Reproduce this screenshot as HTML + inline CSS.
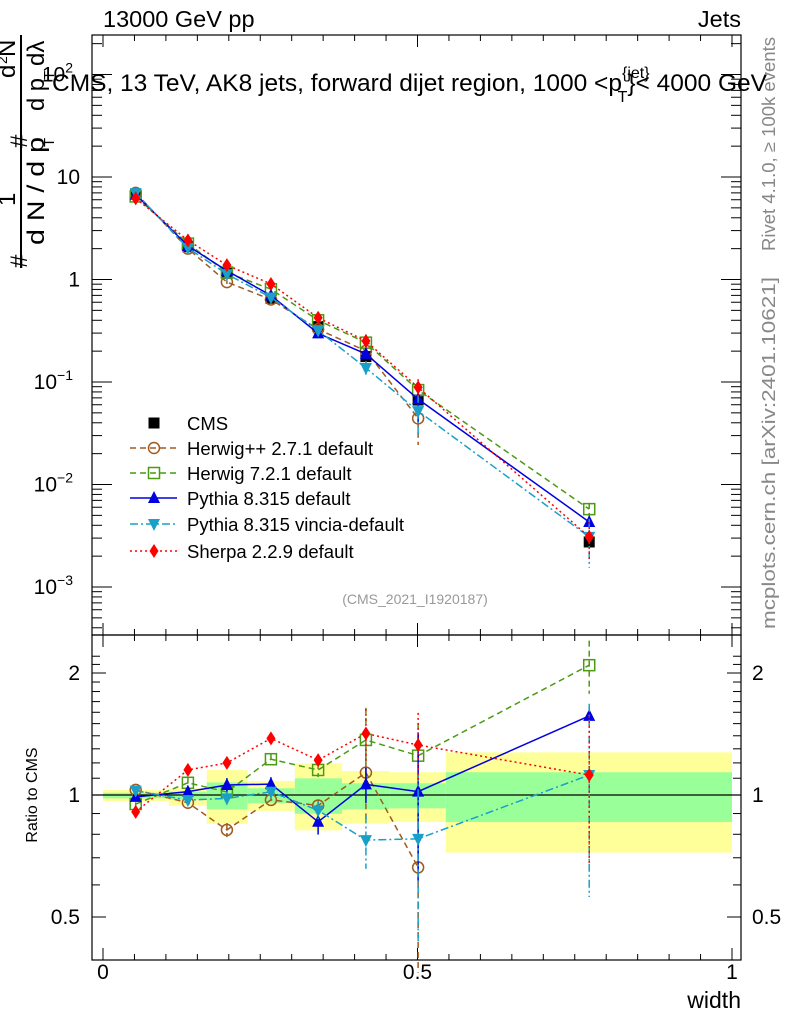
<!DOCTYPE html>
<html><head><meta charset="utf-8">
<style>
body{margin:0;background:#fff;}
svg{display:block;font-family:"Liberation Sans",sans-serif;}
</style></head><body>
<svg id="c" width="786" height="1024" viewBox="0 0 786 1024"></svg>
<script>
const widths=[0.052,0.135,0.197,0.267,0.342,0.418,0.501,0.773];
const binEdges=[0,0.105,0.165,0.23,0.305,0.38,0.455,0.545,1.0];
const cmsVals=[6.8,2.09,1.15,0.656,0.347,0.177,0.0667,0.00275];
const bandYellowHi=[1.029,1.039,1.152,1.083,1.197,1.146,1.138,1.274];
const bandYellowLo=[0.966,0.941,0.849,0.914,0.818,0.850,0.858,0.721];
const bandGreenHi=[1.013,1.019,1.074,1.039,1.099,1.069,1.069,1.138];
const bandGreenLo=[0.981,0.974,0.922,0.954,0.899,0.922,0.927,0.858];
const herwigppVals=[7.0,2.0,0.943,0.638,0.327,0.201,0.0442];
const herwig7Vals=[6.46,2.24,1.17,0.804,0.40,0.242,0.0834,0.00575];
const pythiaVals=[6.73,2.13,1.217,0.698,0.298,0.188,0.068,0.00431];
const vinciaVals=[6.97,2.03,1.128,0.668,0.318,0.137,0.052,0.00308];
const sherpaVals=[6.18,2.41,1.38,0.905,0.423,0.251,0.0886,0.00308];
const herwigppErr=[0.01,0.02,0.04,0.03,0.03,0.25,0.45];
const herwig7Err=[0.01,0.03,0.02,0.03,0.04,0.2,0.2,0.15];
const pythiaErr=[0.01,0.03,0.04,0.04,0.07,0.1,0.4,0.05];
const vinciaErr=[0.01,0.03,0.04,0.03,0.05,0.15,0.45,0.5];
const sherpaErr=[0.01,0.02,0.03,0.03,0.03,0.15,0.2,0.4];
const xTicks=[0,0.5,1];
const xTickLabels=["0","0.5","1"];
const ratioTicks=[0.5,1,2];
const ratioTickLabels=["0.5","1","2"];

const NS="http://www.w3.org/2000/svg";
const svg=document.getElementById('c');
function el(tag,attrs,parent){const e=document.createElementNS(NS,tag);for(const k in attrs)e.setAttribute(k,attrs[k]);(parent||svg).appendChild(e);return e;}
const X0=92,X1=741,T0=35,T1=635,R0=635,R1=960;
const xs=v=>103+629*v;
const ys=v=>177-102.5*(Math.log10(v)-1);
const rs=v=>795-122*Math.log2(v);

for(let i=0;i<8;i++){
  const y=el('rect',{x:xs(binEdges[i]),y:rs(bandYellowHi[i]),width:xs(binEdges[i+1])-xs(binEdges[i]),height:rs(bandYellowLo[i])-rs(bandYellowHi[i]),fill:'#ffff99'});
  
  
  const g=el('rect',{x:xs(binEdges[i]),y:rs(bandGreenHi[i]),width:xs(binEdges[i+1])-xs(binEdges[i]),height:rs(bandGreenLo[i])-rs(bandGreenHi[i]),fill:'#99ff99'});
  
  
}
el('line',{x1:X0,x2:X1,y1:rs(1),y2:rs(1),stroke:'#000','stroke-width':1.2});

const f1=el('rect',{x:X0,y:T0,width:X1-X0,height:T1-T0,fill:'none',stroke:'#000','stroke-width':1.2});

const f2=el('rect',{x:X0,y:R0,width:X1-X0,height:R1-R0,fill:'none',stroke:'#000','stroke-width':1.2});


for(let v=0;v<=1.0001;v+=0.05){
  const big=Math.abs(v*10-Math.round(v*10))<1e-6&&Math.round(v*10)%5==0;
  const L=big?12:6;
  el('line',{x1:xs(v),x2:xs(v),y1:R1,y2:R1-L,stroke:'#000'});
  el('line',{x1:xs(v),x2:xs(v),y1:R0,y2:R0-L,stroke:'#000'});
  el('line',{x1:xs(v),x2:xs(v),y1:T0,y2:T0+L,stroke:'#000'});
  el('line',{x1:xs(v),x2:xs(v),y1:R0,y2:R0+L,stroke:'#000'});
}
xTicks.forEach((v,i)=>{const t=el('text',{x:xs(v),y:979,'font-size':21,'text-anchor':'middle'});t.textContent=xTickLabels[i];
});
const xt=el('text',{x:741,y:1008,'font-size':23,'text-anchor':'end'});xt.textContent='width';


for(let d=-4;d<=2;d++){for(let m=1;m<10;m++){const v=m*Math.pow(10,d);const y=ys(v);if(y<T0||y>T1)continue;
  const L=m==1?20:10;el('line',{x1:X0,x2:X0+L,y1:y,y2:y,stroke:'#000'});el('line',{x1:X1,x2:X1-L,y1:y,y2:y,stroke:'#000'});}}
function ylab(x,y,base,exp){const t=el('text',{x:x,y:y,'font-size':21,'text-anchor':'end'});t.textContent=base;
 if(exp){const s=el('tspan',{dy:-9,'font-size':14},t);s.textContent=exp;}
 }
ylab(80,ys(10)+7,'10');ylab(80,ys(1)+7,'1');ylab(73,ys(0.1)+7,'10','−1');ylab(73,ys(0.01)+7,'10','−2');ylab(73,ys(0.001)+7,'10','−3');ylab(73,ys(100)+7,'10','2');

for(let v=0.5;v<=2.3;v+=0.1){const y=rs(v);if(y<R0)continue;const big=[0.5,1,2].some(q=>Math.abs(q-v)<1e-6);const L=big?14:8;
 el('line',{x1:X0,x2:X0+L,y1:y,y2:y,stroke:'#000'});el('line',{x1:X1,x2:X1-L,y1:y,y2:y,stroke:'#000'});}
ratioTicks.forEach((v,i)=>{[[80,'end'],[752,'start']].forEach(p=>{const t=el('text',{x:p[0],y:rs(v)+7,'font-size':21,'text-anchor':p[1]});t.textContent=ratioTickLabels[i];
 });});
const rl=el('text',{x:0,y:0,'font-size':16,'text-anchor':'middle',transform:'translate(37,795) rotate(-90)'});rl.textContent='Ratio to CMS';


function txt(x,y,s,size,name,attrs){const t=el('text',Object.assign({x:x,y:y,'font-size':size},attrs||{}));t.textContent=s;return t;}
txt(103,27,'13000 GeV pp',23.5,'beam-label');
txt(741,27,'Jets',23.5,'process-label',{'text-anchor':'end'});
const title=txt(52,91,'CMS, 13 TeV, AK8 jets, forward dijet region, 1000 <p',24.5,'plot-title');
const s1=el('tspan',{dy:-13,'font-size':16},title);s1.textContent='{jet}';
const s2=el('tspan',{dx:-32,dy:24,'font-size':16},title);s2.textContent='T';
const s3=el('tspan',{dy:-11,'font-size':24.5},title);s3.textContent='}< 4000 GeV';
txt(415,604,'(CMS_2021_I1920187)',14,'analysis-id',{'text-anchor':'middle',fill:'#999'});
txt(0,0,'Rivet 4.1.0, ≥ 100k events',18,'rivet-label',{fill:'#888','text-anchor':'end',textLength:214,lengthAdjust:'spacingAndGlyphs',transform:'translate(775,37) rotate(-90)'});
txt(0,0,'mcplots.cern.ch [arXiv:2401.10621]',18,'mcplots-label',{fill:'#888','text-anchor':'end',textLength:352,lengthAdjust:'spacingAndGlyphs',transform:'translate(775,277) rotate(-90)'});
const yg=el('g',{transform:'rotate(-90)'});
el('line',{x1:-268,x2:-35,y1:21,y2:21,stroke:'#000','stroke-width':2},yg);
function yt(u,v,s,fs,len){const a={x:u,y:v,'font-size':fs};if(len){a.textLength=len;a.lengthAdjust='spacingAndGlyphs';}const t=el('text',a,yg);t.textContent=s;return t;}
yt(-268,27,'#',24);
yt(-206,15,'1',24);
yt(-245,44,'d N / d p',24,108);
yt(-147,54,'T',15);
yt(-148,27,'#',24);
yt(-78,15,'d',24);yt(-64,7,'2',14);yt(-57,15,'N',24);
yt(-111,44,'d p',24,33);yt(-80,54,'T',15);yt(-66,44,'dλ',24);

function marker(g,kind,x,y,color){
 if(kind=='circle')el('circle',{cx:x,cy:y,r:5.5,fill:'none',stroke:color,'stroke-width':1.5},g);
 else if(kind=='osq')el('rect',{x:x-5.5,y:y-5.5,width:11,height:11,fill:'none',stroke:color,'stroke-width':1.5},g);
 else if(kind=='sq')el('rect',{x:x-5.5,y:y-5.5,width:11,height:11,fill:color},g);
 else if(kind=='up')el('polygon',{points:`${x},${y-7} ${x-6},${y+5} ${x+6},${y+5}`,fill:color},g);
 else if(kind=='down')el('polygon',{points:`${x},${y+7} ${x-6},${y-5} ${x+6},${y-5}`,fill:color},g);
 else if(kind=='dia')el('polygon',{points:`${x},${y-7} ${x-4.5},${y} ${x},${y+7} ${x+4.5},${y}`,fill:color},g);
}
const series=[
 {name:'herwigpp',label:'Herwig++ 2.7.1 default',vals:herwigppVals,err:herwigppErr,color:'#a05a1e',dash:'6,4',kind:'circle'},
 {name:'herwig7',label:'Herwig 7.2.1 default',vals:herwig7Vals,err:herwig7Err,color:'#4a9a12',dash:'6,4',kind:'osq'},
 {name:'pythia',label:'Pythia 8.315 default',vals:pythiaVals,err:pythiaErr,color:'#0000e0',dash:'',kind:'up'},
 {name:'vincia',label:'Pythia 8.315 vincia-default',vals:vinciaVals,err:vinciaErr,color:'#1aa0c8',dash:'8,3,2,3',kind:'down'},
 {name:'sherpa',label:'Sherpa 2.2.9 default',vals:sherpaVals,err:sherpaErr,color:'#ff0000',dash:'2,3',kind:'dia'}
];
const cg=el('g',{});
cmsVals.forEach((v,i)=>marker(cg,'sq',xs(widths[i]),ys(v),'#000'));
series.forEach(s=>{
 const g=el('g',{});
 const gr=el('g',{});
 const pts=s.vals.map((v,i)=>[xs(widths[i]),ys(v)]);
 const rpts=s.vals.map((v,i)=>[xs(widths[i]),rs(v/cmsVals[i])]);
 el('polyline',{points:pts.map(p=>p.join(',')).join(' '),fill:'none',stroke:s.color,'stroke-width':1.5,'stroke-dasharray':s.dash},g);
 el('polyline',{points:rpts.map(p=>p.join(',')).join(' '),fill:'none',stroke:s.color,'stroke-width':1.5,'stroke-dasharray':s.dash},gr);
 s.vals.forEach((v,i)=>{const e=s.err[i];const x=xs(widths[i]);
  const r=v/cmsVals[i];
  el('line',{x1:x,x2:x,y1:ys(v*(1+e)),y2:ys(Math.max(v*(1-e),1e-6)),stroke:s.color,'stroke-width':1.5,'stroke-dasharray':s.dash},g);
  el('line',{x1:x,x2:x,y1:rs(r*(1+e)),y2:rs(Math.max(r*(1-e),0.3)),stroke:s.color,'stroke-width':1.5,'stroke-dasharray':s.dash},gr);
  marker(g,s.kind,x,ys(v),s.color);marker(gr,s.kind,x,rs(r),s.color);});
});
const lg=el('g',{});
const ly=[423,448,473,498,524,551];
const e0=el('g',{},lg);
marker(e0,'sq',154,ly[0],'#000');
const lt0=el('text',{x:187,y:ly[0]+7,'font-size':18.5},e0);lt0.textContent='CMS';
series.forEach((s,i)=>{const e=el('g',{},lg);
 el('line',{x1:130,x2:177,y1:ly[i+1],y2:ly[i+1],stroke:s.color,'stroke-width':1.5,'stroke-dasharray':s.dash},e);
 marker(e,s.kind,154,ly[i+1],s.color);
 const t=el('text',{x:187,y:ly[i+1]+7,'font-size':18.5},e);t.textContent=s.label;});
</script>
</body></html>
